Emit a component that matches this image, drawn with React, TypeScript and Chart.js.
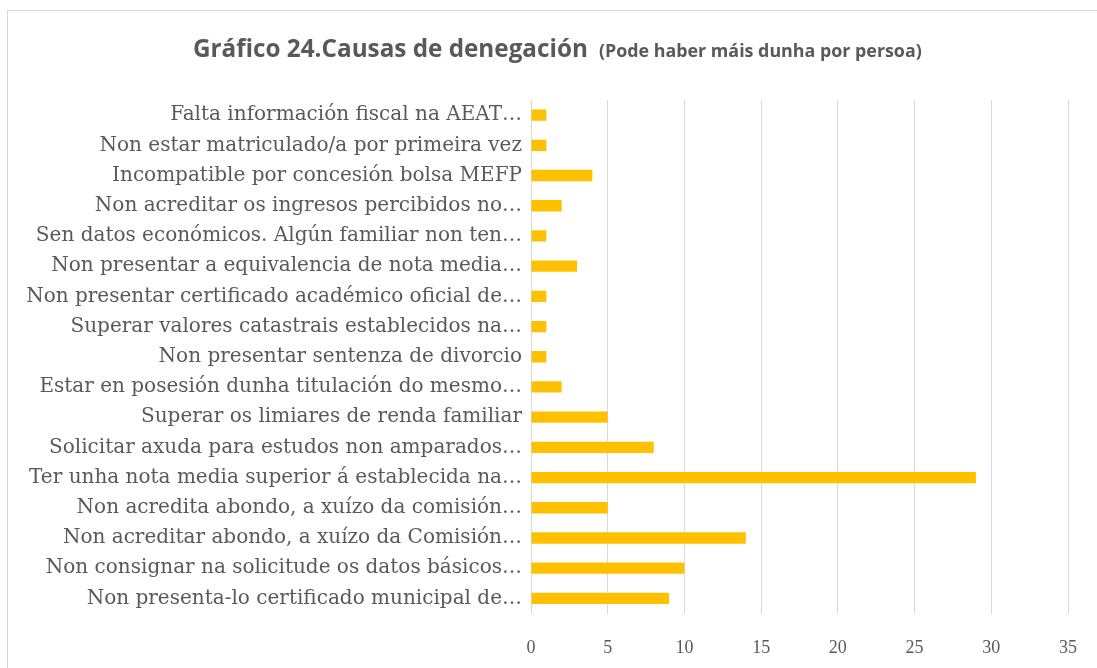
import React, { useEffect, useRef } from "react";
import { Chart, registerables } from "chart.js";

Chart.register(...registerables);

const categories: string[] = [
  "Falta información fiscal na AEAT…",
  "Non estar matriculado/a por primeira vez",
  "Incompatible por concesión bolsa MEFP",
  "Non acreditar os ingresos percibidos no…",
  "Sen datos económicos. Algún familiar non ten…",
  "Non presentar a equivalencia de nota media…",
  "Non presentar certificado académico oficial de…",
  "Superar valores catastrais establecidos na…",
  "Non presentar sentenza de divorcio",
  "Estar en posesión dunha titulación do mesmo…",
  "Superar os limiares de renda familiar",
  "Solicitar axuda para estudos non amparados…",
  "Ter unha nota media superior á establecida na…",
  "Non acredita abondo, a xuízo da comisión…",
  "Non acreditar abondo, a xuízo da Comisión…",
  "Non consignar na solicitude os datos básicos…",
  "Non presenta-lo certificado municipal de…",
];

const values: number[] = [1, 1, 4, 2, 1, 3, 1, 1, 1, 2, 5, 8, 29, 5, 14, 10, 9];

const xTicks: number[] = [0, 5, 10, 15, 20, 25, 30, 35];

const titleMain = "Gráfico 24.Causas de denegación";
const titleSub = "(Pode haber máis dunha por persoa)";

const TEXT = "#595959";
const GRID = "#d9d9d9";
const BAR = "#FFC000";
const LABEL_FAMILY = "'DejaVu Serif'";
const TITLE_FAMILY = "'Open Sans'";

function fitSize(text: string, family: string, weight: string, target: number): number {
  const c = document.createElement("canvas").getContext("2d")!;
  c.font = `${weight} 100px ${family}`;
  const w = c.measureText(text).width;
  return (100 * target) / w;
}

const titlePlugin = {
  id: "mixedTitle",
  afterDraw(chart: any) {
    const ctx = chart.ctx;
    ctx.save();
    ctx.fillStyle = TEXT;
    ctx.textBaseline = "alphabetic";
    ctx.textAlign = "left";
    const s1 = fitSize(titleMain, TITLE_FAMILY, "bold", 395);
    const s2 = fitSize(titleSub, TITLE_FAMILY, "bold", 323);
    const y = 57;
    ctx.font = `bold ${s1}px ${TITLE_FAMILY}`;
    ctx.fillText(titleMain, 193, y);
    ctx.font = `bold ${s2}px ${TITLE_FAMILY}`;
    ctx.fillText(titleSub, 599, y);
    ctx.restore();
  },
};

export default function App() {
  const ref = useRef<HTMLCanvasElement>(null);

  useEffect(() => {
    if (!ref.current) return;
    const labelSize = Math.min(
      21,
      fitSize("Non presentar certificado académico oficial de…", LABEL_FAMILY, "normal", 496)
    );
    const chart = new Chart(ref.current, {
      type: "bar",
      data: {
        labels: categories,
        datasets: [
          {
            data: values,
            backgroundColor: BAR,
            borderWidth: 0,
            categoryPercentage: 0.75,
            barPercentage: 0.5,
          },
        ],
      },
      options: {
        indexAxis: "y",
        responsive: false,
        animation: false,
        events: [],
        layout: { padding: { top: 100, right: 29, left: 0, bottom: 0 } },
        plugins: {
          legend: { display: false },
          title: { display: false },
          tooltip: { enabled: false },
        },
        scales: {
          x: {
            min: 0,
            max: 35,
            afterBuildTicks(scale: any) {
              scale.ticks = xTicks.map((v) => ({ value: v }));
            },
            afterFit(scale: any) {
              scale.height = 54.5;
              scale.paddingLeft = 0;
              scale.paddingRight = 0;
            },
            grid: { color: GRID, lineWidth: 1, drawTicks: false },
            border: { display: false },
            ticks: {
              padding: 24,
              color: TEXT,
              font: { family: "'Liberation Serif'", size: 18 },
            },
          },
          y: {
            afterFit(scale: any) {
              scale.width = 531;
              scale.paddingTop = 0;
              scale.paddingBottom = 0;
            },
            grid: { display: false, drawTicks: false },
            border: { display: true, color: GRID, width: 1 },
            ticks: {
              padding: 9,
              color: TEXT,
              autoSkip: false,
              font: { family: LABEL_FAMILY, size: labelSize },
            },
          },
        },
      },
      plugins: [titlePlugin],
    });
    return () => chart.destroy();
  }, []);

  return (
    <div
      style={{
        position: "fixed",
        left: 0,
        top: 0,
        width: 1097,
        height: 668,
        background: "#ffffff",
        overflow: "hidden",
      }}
    >
      <div
        style={{
          position: "absolute",
          left: 7,
          top: 10,
          width: 1200,
          height: 800,
          border: "1px solid #d6d6d6",
          boxSizing: "border-box",
        }}
      />
      <canvas
        ref={ref}
        width={1097}
        height={668}
        style={{ position: "absolute", left: 0, top: 0, width: 1097, height: 668 }}
      />
    </div>
  );
}
